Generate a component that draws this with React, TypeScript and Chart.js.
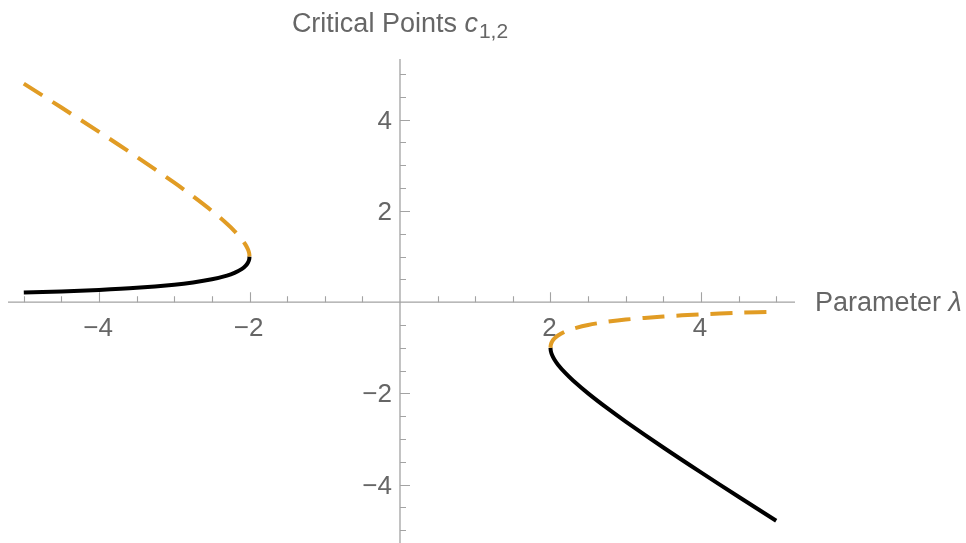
import React, { useEffect, useRef } from "react";
import { Chart, registerables } from "chart.js";

Chart.register(...registerables);

// Parameter values (λ) and critical points
const lambdaLeft = [-5, -4.5, -4, -3.5, -3, -2.75, -2.5, -2.3, -2.2, -2.1, -2.05, -2.02, -2.005, -2];
const cBlackLeft = [0.209, 0.234, 0.268, 0.314, 0.382, 0.431, 0.5, 0.582, 0.642, 0.73, 0.8, 0.868, 0.932, 1.0];
const cDashedLeft = [4.791, 4.266, 3.732, 3.186, 2.618, 2.319, 2.0, 1.718, 1.558, 1.37, 1.25, 1.152, 1.073, 1.0];

const lambdaRight = [2, 2.005, 2.02, 2.05, 2.1, 2.2, 2.3, 2.5, 2.75, 3, 3.5, 4, 4.5, 5];
const cBlackRight = [-1.0, -1.073, -1.152, -1.25, -1.37, -1.558, -1.718, -2.0, -2.319, -2.618, -3.186, -3.732, -4.266, -4.791];
const cDashedRight = [-1.0, -0.932, -0.868, -0.8, -0.73, -0.642, -0.582, -0.5, -0.431, -0.382, -0.314, -0.268, -0.234, -0.209];

// Axis ticks
const xMajorTicks = [-4, -2, 2, 4];
const xTickLabels = ["\u22124", "\u22122", "2", "4"];
const yMajorTicks = [-4, -2, 2, 4];
const yTickLabels = ["\u22124", "\u22122", "2", "4"];
const minorStep = 0.5;

const TITLE_MAIN = "Critical Points ";
const TITLE_VAR = "c";
const TITLE_SUB = "1,2";
const X_LABEL_MAIN = "Parameter ";
const X_LABEL_VAR = "\u03bb";

const AXIS_COLOR = "#a3a3a3";
const TEXT_COLOR = "#666666";
const ORANGE = "#e19c24";
const FONT = '"Liberation Sans", Arial, sans-serif';

function pts(xs: number[], ys: number[]) {
  return xs.map((x, i) => ({ x, y: ys[i] }));
}

const axesPlugin = {
  id: "mmaAxes",
  beforeDatasetsDraw(chart: any) {
    const { ctx, chartArea: a } = chart;
    const xs = chart.scales.x;
    const ys = chart.scales.y;
    const x0 = xs.getPixelForValue(0);
    const y0 = ys.getPixelForValue(0);
    ctx.save();
    ctx.strokeStyle = AXIS_COLOR;
    ctx.lineWidth = 1.3;
    ctx.beginPath();
    ctx.moveTo(a.left, y0);
    ctx.lineTo(a.right, y0);
    ctx.moveTo(x0, a.top);
    ctx.lineTo(x0, a.bottom);
    ctx.stroke();

    ctx.lineWidth = 1.1;
    ctx.beginPath();
    const xStart = Math.ceil(xs.min / minorStep) * minorStep;
    for (let v = xStart; v <= xs.max + 1e-9; v += minorStep) {
      if (Math.abs(v) < 1e-9) continue;
      const major = xMajorTicks.some((t) => Math.abs(t - v) < 1e-9);
      const px = Math.round(xs.getPixelForValue(v)) + 0.5;
      ctx.moveTo(px, y0);
      ctx.lineTo(px, y0 - (major ? 10 : 6));
    }
    const yStart = Math.ceil(ys.min / minorStep) * minorStep;
    for (let v = yStart; v <= ys.max + 1e-9; v += minorStep) {
      if (Math.abs(v) < 1e-9) continue;
      const major = yMajorTicks.some((t) => Math.abs(t - v) < 1e-9);
      const py = Math.round(ys.getPixelForValue(v)) + 0.5;
      ctx.moveTo(x0, py);
      ctx.lineTo(x0 + (major ? 10 : 6), py);
    }
    ctx.stroke();

    ctx.fillStyle = TEXT_COLOR;
    ctx.font = `26px ${FONT}`;
    ctx.textAlign = "center";
    ctx.textBaseline = "alphabetic";
    xMajorTicks.forEach((v, i) => {
      ctx.fillText(xTickLabels[i], xs.getPixelForValue(v) - 1, y0 + 34);
    });
    ctx.textAlign = "right";
    yMajorTicks.forEach((v, i) => {
      ctx.fillText(yTickLabels[i], x0 - 8, ys.getPixelForValue(v) + 9);
    });
    ctx.restore();
  },
  afterDraw(chart: any) {
    const { ctx, chartArea: a } = chart;
    const xs = chart.scales.x;
    const ys = chart.scales.y;
    const x0 = xs.getPixelForValue(0);
    const y0 = ys.getPixelForValue(0);
    ctx.save();
    ctx.fillStyle = TEXT_COLOR;
    ctx.textBaseline = "alphabetic";
    ctx.textAlign = "left";
    // Title
    const fMain = `27px ${FONT}`;
    const fVar = `italic 27px ${FONT}`;
    const fSub = `21px ${FONT}`;
    ctx.font = fMain;
    const w1 = ctx.measureText(TITLE_MAIN).width;
    ctx.font = fVar;
    const w2 = ctx.measureText(TITLE_VAR).width;
    ctx.font = fSub;
    const w3 = ctx.measureText(TITLE_SUB).width;
    let tx = x0 - (w1 + w2 + w3 + 1) / 2;
    const ty = 32;
    ctx.font = fMain;
    ctx.fillText(TITLE_MAIN, tx, ty);
    tx += w1;
    ctx.font = fVar;
    ctx.fillText(TITLE_VAR, tx, ty);
    tx += w2 + 1;
    ctx.font = fSub;
    ctx.fillText(TITLE_SUB, tx, ty + 6);
    // X axis label
    let lx = a.right + 20;
    const ly = y0 + 9;
    ctx.font = fMain;
    ctx.fillText(X_LABEL_MAIN, lx, ly);
    lx += ctx.measureText(X_LABEL_MAIN).width;
    ctx.font = fVar;
    ctx.fillText(X_LABEL_VAR, lx, ly);
    ctx.restore();
  },
};

export default function App() {
  const canvasRef = useRef<HTMLCanvasElement | null>(null);

  useEffect(() => {
    if (!canvasRef.current) return;
    const lineBase = {
      showLine: true,
      pointRadius: 0,
      pointHoverRadius: 0,
      borderWidth: 4,
      fill: false,
      tension: 0.3,
      clip: false as any,
      borderCapStyle: "butt" as const,
      borderJoinStyle: "round" as const,
    };
    const chart = new Chart(canvasRef.current, {
      type: "scatter",
      data: {
        datasets: [
          { ...lineBase, data: pts(lambdaLeft, cDashedLeft), borderColor: ORANGE, borderDash: [22, 12] },
          { ...lineBase, data: pts(lambdaRight, cDashedRight), borderColor: ORANGE, borderDash: [22, 12] },
          { ...lineBase, data: pts(lambdaLeft, cBlackLeft), borderColor: "#000000" },
          { ...lineBase, data: pts(lambdaRight, cBlackRight), borderColor: "#000000" },
        ],
      },
      options: {
        responsive: false,
        devicePixelRatio: 1,
        animation: false,
        layout: { padding: { left: 8, top: 59, right: 171, bottom: 0 } },
        plugins: {
          legend: { display: false },
          tooltip: { enabled: false },
          title: { display: false },
        },
        scales: {
          x: { type: "linear", display: false, min: -5.21, max: 5.25 },
          y: { type: "linear", display: false, min: -5.28, max: 5.33 },
        },
      },
      plugins: [axesPlugin],
    });
    return () => chart.destroy();
  }, []);

  return (
    <div style={{ position: "absolute", left: 0, top: 0, width: 966, height: 543, background: "#ffffff" }}>
      <canvas ref={canvasRef} width={966} height={543} />
    </div>
  );
}
